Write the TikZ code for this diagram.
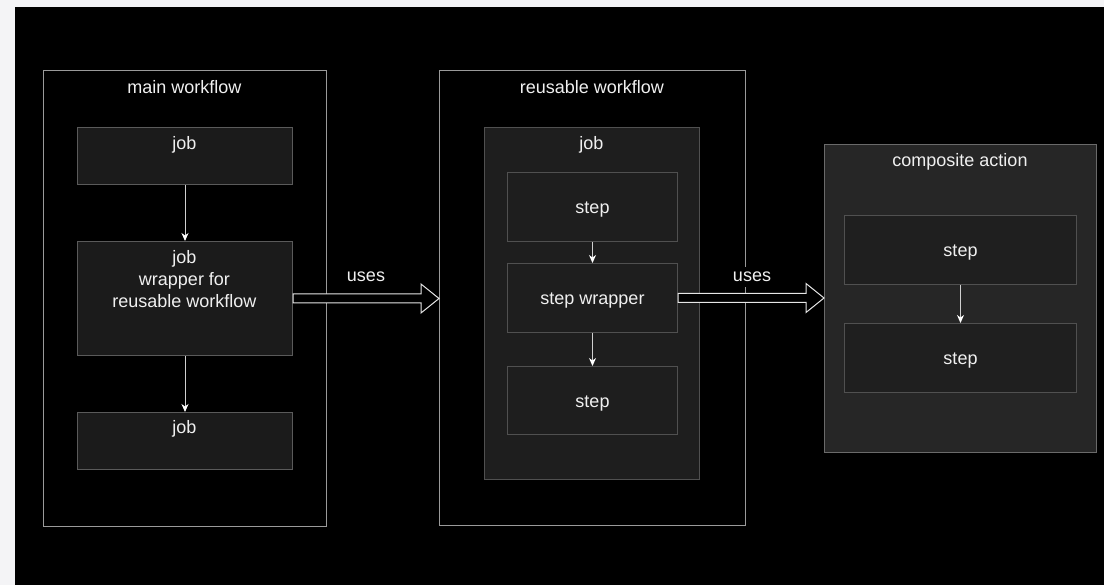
\documentclass[tikz,border=0pt]{standalone}
\usepackage{fontspec}
\setmainfont{Liberation Sans}
\usetikzlibrary{arrows.meta,calc}
\definecolor{stripcol}{HTML}{F4F4F6}
\definecolor{outerline}{HTML}{9A9A9A}
\definecolor{jobfill}{HTML}{1B1B1B}
\definecolor{jobline}{HTML}{5A5A5A}
\definecolor{innerfill}{HTML}{1E1E1E}
\definecolor{innerline}{HTML}{505050}
\definecolor{compfill}{HTML}{262626}
\definecolor{compline}{HTML}{6A6A6A}
\definecolor{cstepfill}{HTML}{1F1F1F}
\definecolor{txtcol}{HTML}{F0F0F0}
\definecolor{arrowcol}{HTML}{D0D0D0}
\definecolor{bigarrowcol}{HTML}{E6E6E6}
\begin{document}
\begin{tikzpicture}[x=1pt,y=-1pt,
  box/.style={anchor=north west, inner sep=0pt, line width=1pt},
  outerbox/.style={box, draw=outerline, fill=black},
  jobbox/.style={box, draw=jobline, fill=jobfill},
  innerjob/.style={box, draw=innerline, fill=innerfill},
  stepbox/.style={box, draw=innerline, fill=innerfill},
  compbox/.style={box, draw=compline, fill=compfill},
  cstepbox/.style={box, draw=innerline, fill=cstepfill},
  txt/.style={anchor=base, inner sep=0pt, text=txtcol, font=\fontsize{18}{22}\selectfont},
  useslbl/.style={anchor=base, inner sep=2pt, text height=13pt, text depth=3pt, fill=black, text=txtcol, font=\fontsize{18}{22}\selectfont},
  flow/.style={draw=arrowcol, line width=1pt, -{Stealth[length=8pt,width=7pt,inset=2.5pt,color=white,fill=white]}},
  bigarrow/.style={draw=bigarrowcol, fill=black, line width=1pt, line join=miter}
]
\useasboundingbox (0,0) rectangle (1104,585);
\fill[stripcol] (0,0) rectangle (1104,585);
\fill[black] (15,7) rectangle (1104,585);

% main workflow
\node[outerbox, minimum width=283pt, minimum height=456pt] (main) at (43,70) {};
\node[jobbox, minimum width=215pt, minimum height=57pt] (job1) at (77,127) {};
\node[jobbox, minimum width=215pt, minimum height=114pt] (wrap) at (77,241) {};
\node[jobbox, minimum width=215pt, minimum height=57pt] (job3) at (77,412) {};

% reusable workflow
\node[outerbox, minimum width=306pt, minimum height=455pt] (reuse) at (439,70) {};
\node[innerjob, minimum width=215pt, minimum height=352pt] (rjob) at (484,127) {};
\node[stepbox, minimum width=170pt, minimum height=69pt] (rs1) at (507,172) {};
\node[stepbox, minimum width=170pt, minimum height=69pt] (rsw) at (507,263) {};
\node[stepbox, minimum width=170pt, minimum height=68pt] (rs3) at (507,366) {};

% composite action
\node[compbox, minimum width=272pt, minimum height=308pt] (comp) at (824,144) {};
\node[cstepbox, minimum width=232pt, minimum height=69pt] (cs1) at (844,215) {};
\node[cstepbox, minimum width=232pt, minimum height=69pt] (cs2) at (844,323) {};

% small arrows
\draw[flow] (job1.south) -- (wrap.north);
\draw[flow] (wrap.south) -- (job3.north);
\draw[flow] (rs1.south) -- (rsw.north);
\draw[flow] (rsw.south) -- (rs3.north);
\draw[flow] (cs1.south) -- (cs2.north);

% big hollow arrows
\coordinate (a1s) at (wrap.east);
\coordinate (a1e) at (reuse.west |- wrap.east);
\draw[bigarrow] ($(a1s)+(0,-4.5)$) -- ($(a1e)+(-18,-4.5)$) -- ($(a1e)+(-18,-14.5)$) -- (a1e)
  -- ($(a1e)+(-18,14.5)$) -- ($(a1e)+(-18,4.5)$) -- ($(a1s)+(0,4.5)$) -- cycle;
\coordinate (a2s) at (rsw.east);
\coordinate (a2e) at (comp.west |- rsw.east);
\draw[bigarrow] ($(a2s)+(0,-4.5)$) -- ($(a2e)+(-18,-4.5)$) -- ($(a2e)+(-18,-14.5)$) -- (a2e)
  -- ($(a2e)+(-18,14.5)$) -- ($(a2e)+(-18,4.5)$) -- ($(a2s)+(0,4.5)$) -- cycle;

% texts
\node[txt] (tmain) at (184.5,93.5) {main workflow};
\node[txt] (tjob1) at (184.5,149.5) {job};
\node[txt] (tw1) at (184.5,263.3) {job};
\node[txt] (tw2) at (184.5,285.6) {wrapper for};
\node[txt] (tw3) at (184.5,307.6) {reusable workflow};
\node[txt] (tjob3) at (184.5,434) {job};

\node[txt] (treuse) at (592,93.3) {reusable workflow};
\node[txt] (trjob) at (591.5,149.3) {job};
\node[txt] (trs1) at ($(rs1.center)+(0,6.3)$) {step};
\node[txt] (trsw) at ($(rsw.center)+(0,6.5)$) {step wrapper};
\node[txt] (trs3) at ($(rs3.center)+(0,6.7)$) {step};

\node[txt] (tcomp) at (960,166.7) {composite action};
\node[txt] (tcs1) at ($(cs1.center)+(0,6.5)$) {step};
\node[txt] (tcs2) at ($(cs2.center)+(0,6.8)$) {step};

\node[useslbl] (u1) at (366,281.7) {uses};
\node[useslbl] (u2) at (752,281.7) {uses};
\end{tikzpicture}
\end{document}
